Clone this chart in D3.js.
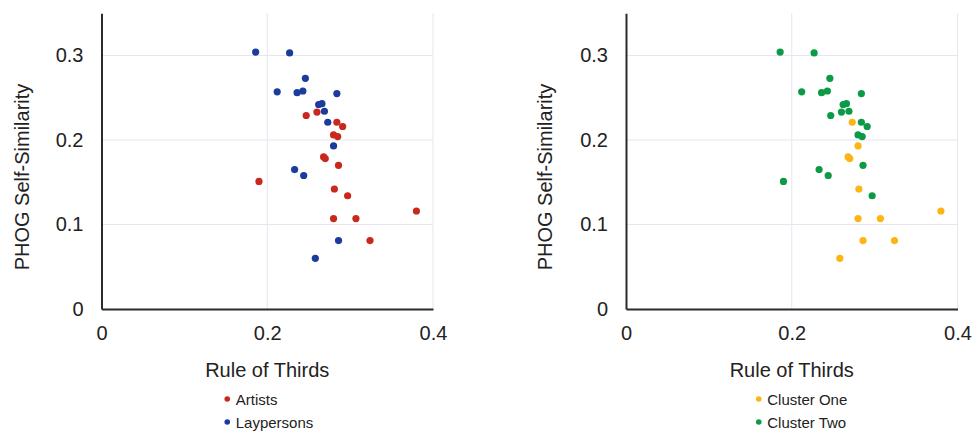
<!DOCTYPE html>
<html>
<head>
<meta charset="utf-8">
<script src="https://cdn.jsdelivr.net/npm/d3@7"></script>
<style>
	body { margin: 0; background: #ffffff; }
	svg { display: block; font-family: "Liberation Sans", Arial, sans-serif; }
</style>
</head>
<body>
<svg id="chart" width="972" height="431"></svg>
<script>
// values (rule of thirds vs PHOG self-similarity)
const artistsX = [0.247, 0.260, 0.284, 0.291, 0.280, 0.285, 0.268, 0.270, 0.286, 0.190, 0.281, 0.297, 0.380, 0.280, 0.307, 0.324];
const artistsY = [0.229, 0.233, 0.221, 0.216, 0.206, 0.204, 0.180, 0.178, 0.170, 0.151, 0.142, 0.134, 0.116, 0.107, 0.107, 0.081];
const artistsCluster = [2, 2, 2, 2, 2, 2, 1, 1, 2, 2, 1, 2, 1, 1, 1, 1];

const laypersonsX = [0.186, 0.227, 0.246, 0.212, 0.236, 0.243, 0.284, 0.262, 0.266, 0.269, 0.273, 0.280, 0.233, 0.244, 0.286, 0.258];
const laypersonsY = [0.304, 0.303, 0.273, 0.257, 0.256, 0.258, 0.255, 0.242, 0.243, 0.234, 0.221, 0.193, 0.165, 0.158, 0.081, 0.060];
const laypersonsCluster = [2, 2, 2, 2, 2, 2, 2, 2, 2, 2, 1, 1, 2, 2, 1, 1];

const xTicks = [0, 0.2, 0.4];
const yTicks = [0, 0.1, 0.2, 0.3];
const groupNames = ['Artists', 'Laypersons'];
const clusterNames = ['Cluster One', 'Cluster Two'];

const groupColors = {'Artists': '#c9281d', 'Laypersons': '#1b3c9c'};
const clusterColors = {'Cluster One': '#fdb515', 'Cluster Two': '#0c9a47'};

function buildPoints() {
	let pts = [];
	laypersonsX.forEach((x, i) => pts.push({x: x, y: laypersonsY[i], group: 'Laypersons', cluster: clusterNames[laypersonsCluster[i] - 1]}));
	artistsX.forEach((x, i) => pts.push({x: x, y: artistsY[i], group: 'Artists', cluster: clusterNames[artistsCluster[i] - 1]}));
	return pts;
}

const fmt = d => d === 0 ? '0' : d3.format('.1f')(d);

function drawPanel(svg, left, colorKey, colorMap, legendNames, labelX, legendShift) {
	const right = left + 331.5;
	const x = d3.scaleLinear().domain([0, 0.4]).range([left, right]);
	const y = d3.scaleLinear().domain([0, 0.35]).range([309, 13.25]);
	const g = svg.append('g');

	// grid
	g.append('g').selectAll('line').data(yTicks.filter(d => d > 0)).enter()
		.append('line')
		.attr('x1', left).attr('x2', right)
		.attr('y1', d => y(d)).attr('y2', d => y(d))
		.attr('stroke', '#e7e5ef').attr('stroke-width', 1);
	g.append('g').selectAll('line').data(xTicks.filter(d => d > 0)).enter()
		.append('line')
		.attr('x1', d => x(d)).attr('x2', d => x(d))
		.attr('y1', y(0.35)).attr('y2', y(0))
		.attr('stroke', '#e7e5ef').attr('stroke-width', 1);

	// axes
	const yAxis = g.append('g').attr('transform', `translate(${left},0)`)
		.call(d3.axisLeft(y).tickValues(yTicks).tickFormat(fmt).tickSize(0).tickSizeOuter(0).tickPadding(18));
	const xAxis = g.append('g').attr('transform', `translate(0,${y(0)})`)
		.call(d3.axisBottom(x).tickValues(xTicks).tickFormat(fmt).tickSize(0).tickSizeOuter(0).tickPadding(17));
	[yAxis, xAxis].forEach(a => {
		a.select('.domain').attr('stroke', '#2b2b2b').attr('stroke-width', 2);
		a.selectAll('text').attr('font-size', 20).attr('fill', '#222')
			.attr('font-family', '"Liberation Sans", Arial, sans-serif');
	});

	// points
	g.append('g').selectAll('circle').data(buildPoints()).enter()
		.append('circle')
		.attr('cx', d => x(d.x))
		.attr('cy', d => y(d.y))
		.attr('r', 3.6)
		.attr('fill', d => colorMap[d[colorKey]]);

	// axis titles
	g.append('text')
		.text('PHOG Self-Similarity')
		.attr('transform', `translate(${labelX},177) rotate(-90)`)
		.attr('text-anchor', 'middle')
		.attr('dominant-baseline', 'central')
		.attr('font-size', 20).attr('fill', '#222');
	g.append('text')
		.text('Rule of Thirds')
		.attr('x', (left + right) / 2).attr('y', 377)
		.attr('text-anchor', 'middle')
		.attr('font-size', 20).attr('fill', '#222');

	// legend
	const legX = (left + right) / 2 - 40 + legendShift;
	const leg = g.append('g').selectAll('g').data(legendNames).enter()
		.append('g')
		.attr('transform', (d, i) => `translate(${legX},${399 + i * 23})`);
	leg.append('circle').attr('r', 2.8).attr('fill', d => colorMap[d]);
	leg.append('text')
		.text(d => d)
		.attr('x', 8.5)
		.attr('dominant-baseline', 'central')
		.attr('font-size', 15).attr('fill', '#222');
}

const svg = d3.select('#chart');
drawPanel(svg, 101.5, 'group', groupColors, groupNames, 22, 0);
drawPanel(svg, 626, 'cluster', clusterColors, clusterNames, 545, 7);
</script>
</body>
</html>
